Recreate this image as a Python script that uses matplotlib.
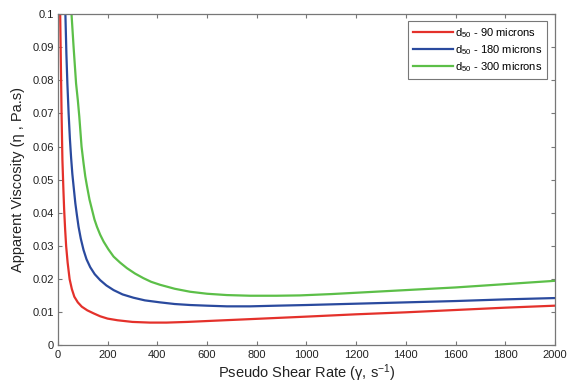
import matplotlib
matplotlib.use("Agg")
import matplotlib.pyplot as plt
from matplotlib.ticker import FuncFormatter

# Data
red_x = [9, 12, 14.6, 18, 22, 25, 29, 33, 39, 47, 56, 66, 80, 96, 118, 143, 170, 200, 240,
         300, 370, 437, 520, 639, 760, 880, 1000, 1200, 1400, 1600, 1800, 2000]
red_y = [0.100, 0.084, 0.070, 0.056, 0.047, 0.041, 0.035, 0.030, 0.025, 0.020, 0.017, 0.0147,
         0.0130, 0.0117, 0.0106, 0.0097, 0.0088, 0.0081, 0.0076, 0.0071, 0.0069, 0.0069, 0.0071,
         0.0075, 0.0079, 0.0083, 0.0087, 0.0094, 0.0100, 0.0107, 0.0114, 0.0120]

blue_x = [30, 34, 38, 43, 48, 53, 58, 63, 70, 76, 83, 92, 103, 115, 130, 148, 170, 195, 224, 260,
          304, 350, 411, 470, 532, 600, 680, 773, 880, 1000, 1200, 1400, 1600, 1800, 2000]
blue_y = [0.100, 0.088, 0.079, 0.070, 0.0625, 0.0566, 0.0517, 0.048, 0.0429, 0.0395, 0.0358,
          0.0322, 0.0288, 0.026, 0.0236, 0.0215, 0.0197, 0.0181, 0.0167, 0.0154, 0.0144, 0.0136,
          0.0130, 0.0125, 0.0122, 0.0120, 0.0118, 0.0118, 0.0120, 0.0122, 0.0126, 0.0130, 0.0134,
          0.0139, 0.0143]

green_x = [54.6, 63, 73, 80, 86, 95, 103, 110, 117, 127, 137, 147, 157, 170, 184, 203, 224, 250,
           278, 310, 344, 375, 411, 470, 532, 600, 680, 773, 880, 974, 1100, 1200, 1400, 1600,
           1800, 2000]
green_y = [0.100, 0.090, 0.079, 0.074, 0.069, 0.060, 0.055, 0.051, 0.048, 0.044, 0.041, 0.038,
           0.0358, 0.0334, 0.0313, 0.029, 0.0268, 0.025, 0.0233, 0.0217, 0.0203, 0.0192, 0.0183,
           0.0171, 0.0162, 0.0156, 0.0152, 0.0150, 0.0150, 0.0151, 0.0155, 0.0159, 0.0167,
           0.0175, 0.0185, 0.0195]

labels = [r"d$_{50}$ - 90 microns", r"d$_{50}$ - 180 microns", r"d$_{50}$ - 300 microns"]
x_ticks = [0, 200, 400, 600, 800, 1000, 1200, 1400, 1600, 1800, 2000]
y_ticks = [0, 0.01, 0.02, 0.03, 0.04, 0.05, 0.06, 0.07, 0.08, 0.09, 0.1]

plt.rcParams['font.family'] = ['Liberation Sans', 'DejaVu Sans']
plt.rcParams['mathtext.fontset'] = 'custom'
plt.rcParams['mathtext.rm'] = 'Liberation Sans'
plt.rcParams['mathtext.it'] = 'Liberation Sans:italic'
plt.rcParams['mathtext.default'] = 'regular'

fig = plt.figure(figsize=(5.68, 3.86), dpi=100)
ax = fig.add_axes([0.102, 0.105, 0.875, 0.859])

ax.plot(red_x, red_y, color='#e4312b', lw=1.6, label=labels[0])
ax.plot(blue_x, blue_y, color='#2a4a9e', lw=1.6, label=labels[1])
ax.plot(green_x, green_y, color='#5cbf48', lw=1.6, label=labels[2])

ax.set_xlim(0, 2000)
ax.set_ylim(0, 0.1)
ax.set_xticks(x_ticks)
ax.set_yticks(y_ticks)
ax.yaxis.set_major_formatter(FuncFormatter(lambda v, p: ('%g' % round(v, 4))))
ax.tick_params(direction='in', top=True, right=True, length=3, width=0.8,
               labelsize=8, colors='#222222', pad=3)
ax.tick_params(axis='both', color='#777777')
for s in ax.spines.values():
    s.set_color('#777777')
    s.set_linewidth(0.9)

ax.set_xlabel("Pseudo Shear Rate (γ, s$^{-1}$)", fontsize=10.5, labelpad=2, color='#222222')
ax.set_ylabel("Apparent Viscosity (η , Pa.s)", fontsize=10.5, labelpad=5, color='#222222')

leg = ax.legend(loc='upper right', fontsize=8, frameon=True, fancybox=False, shadow=False,
                borderpad=0.45, handlelength=3.6, handletextpad=0.15, labelspacing=0.3,
                borderaxespad=0, bbox_to_anchor=(0.984, 0.979))
leg.get_frame().set_edgecolor('#555555')
leg.get_frame().set_linewidth(0.8)

fig.savefig('out.png', dpi=100)
